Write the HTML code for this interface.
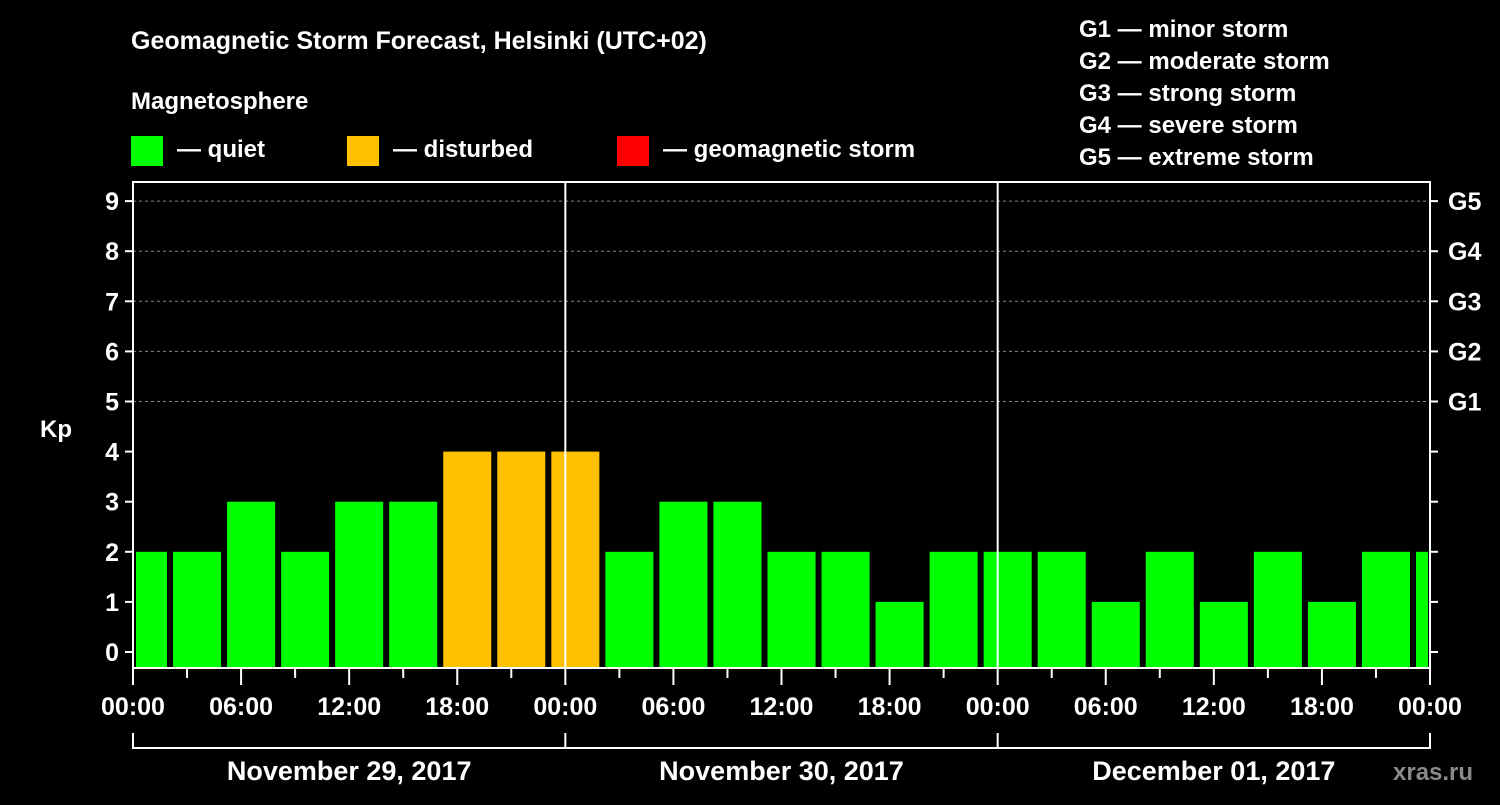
<!DOCTYPE html>
<html><head><meta charset="utf-8"><style>
body{margin:0;background:#000;width:1500px;height:800px;overflow:hidden}
svg text{font-family:"Liberation Sans",sans-serif;font-weight:bold;fill:#fff}
</style></head><body>
<svg id="c" width="1500" height="800">
<text x="131" y="49" font-size="25">Geomagnetic Storm Forecast, Helsinki (UTC+02)</text>
<text x="131" y="109" font-size="24">Magnetosphere</text>
<rect x="131" y="136" width="32" height="30" fill="#00ff00"/>
<text x="177" y="157" font-size="24">— quiet</text>
<rect x="347" y="136" width="32" height="30" fill="#ffc000"/>
<text x="393" y="157" font-size="24">— disturbed</text>
<rect x="617" y="136" width="32" height="30" fill="#ff0000"/>
<text x="663" y="157" font-size="24">— geomagnetic storm</text>
<g font-size="24">
<text x="1079" y="37">G1 — minor storm</text>
<text x="1079" y="69">G2 — moderate storm</text>
<text x="1079" y="101">G3 — strong storm</text>
<text x="1079" y="133">G4 — severe storm</text>
<text x="1079" y="165">G5 — extreme storm</text>
</g>
<text x="40" y="437" font-size="24">Kp</text>
<text x="1393" y="780" font-size="24" fill="#888" style="fill:#8a8a8a">xras.ru</text>
<g id="g"></g>
</svg>
<script>
const kpValues=[2,2,3,2,3,3,4,4,4,2,3,3,2,2,1,2,2,2,1,2,1,2,1,2,2];
const kpTicks=[0,1,2,3,4,5,6,7,8,9];
const gLabels=["G1","G2","G3","G4","G5"];
const timeLabels=["00:00","06:00","12:00","18:00","00:00","06:00","12:00","18:00","00:00","06:00","12:00","18:00","00:00"];
const dayLabels=["November 29, 2017","November 30, 2017","December 01, 2017"];
const L=133,R=1430,T=182,B=668;
const x=h=>L+h*(R-L)/72;
const y=v=>652-v*50.1;
const g=document.getElementById('g');
const NS='http://www.w3.org/2000/svg';
function mk(t,a){const e=document.createElementNS(NS,t);for(const k in a)e.setAttribute(k,a[k]);g.appendChild(e);return e;}
// bars
kpValues.forEach((v,i)=>{
 let h0=-1+3*i,h1=h0+3;
 let x0=Math.max(x(h0)+4,L+3),x1=Math.min(x(h1)-2,R-2);
 const col=v>=5?'#ff0000':(v>=4?'#ffc000':'#00ff00');
 const r=mk('rect',{x:x0,y:y(v),width:x1-x0,height:B-1-y(v),fill:col});
 
 
});
// grid
[5,6,7,8,9].forEach(v=>{const l=mk('line',{x1:L,x2:R,y1:y(v),y2:y(v),stroke:'#888','stroke-dasharray':'3,3','stroke-width':1});
 
 });
// frame
const f=mk('rect',{x:L,y:T,width:R-L,height:B-T,fill:'none',stroke:'#fff','stroke-width':2});


[24,48].forEach(h=>{const l=mk('line',{x1:x(h),x2:x(h),y1:T,y2:B,stroke:'#fff','stroke-width':2});
 
 });
// y ticks
kpTicks.forEach(v=>{
 mk('line',{x1:L-8,x2:L,y1:y(v),y2:y(v),stroke:'#fff','stroke-width':2});
 mk('line',{x1:R,x2:R+8,y1:y(v),y2:y(v),stroke:'#fff','stroke-width':2});
 const t=mk('text',{x:L-14,y:y(v)+9,'text-anchor':'end','font-size':25});t.textContent=v;
 
 
});
gLabels.forEach((s,i)=>{const t=mk('text',{x:1448,y:y(5+i)+9,'font-size':25});t.textContent=s;
 
 });
// x ticks
for(let h=0;h<=72;h+=3){mk('line',{x1:x(h),x2:x(h),y1:B,y2:B+(h%6?10:17),stroke:'#fff','stroke-width':2});}
timeLabels.forEach((s,i)=>{const t=mk('text',{x:x(i*6),y:715,'text-anchor':'middle','font-size':25});t.textContent=s;
 
 });
// day bracket
mk('line',{x1:x(0),x2:x(72),y1:748,y2:748,stroke:'#fff','stroke-width':2});
[0,24,48,72].forEach(h=>mk('line',{x1:x(h),x2:x(h),y1:733,y2:749,stroke:'#fff','stroke-width':2}));
dayLabels.forEach((s,i)=>{const t=mk('text',{x:x(12+24*i),y:780,'text-anchor':'middle','font-size':27});t.textContent=s;
 
 });
</script>
</body></html>
